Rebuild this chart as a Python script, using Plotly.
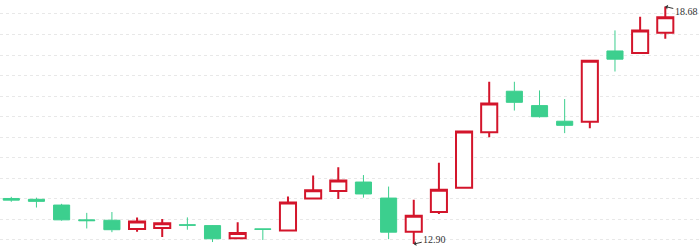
import plotly.graph_objects as go

idx = list(range(27))
opens  = [14.01, 13.99, 13.85, 13.49, 13.48, 13.27, 13.29, 13.37, 13.35, 13.04, 13.27, 13.23, 14.01, 14.19,
          14.41, 14.02, 13.20, 13.68, 14.27, 15.62, 16.62, 16.27, 15.89, 15.88, 17.60, 17.55, 18.04]
highs  = [14.05, 14.03, 13.88, 13.66, 13.68, 13.55, 13.51, 13.55, 13.36, 13.43, 13.27, 14.06, 14.57, 14.77,
          14.58, 14.30, 13.98, 14.88, 15.65, 16.85, 16.85, 16.64, 16.43, 17.36, 18.10, 18.43, 18.68]
lows   = [13.93, 13.79, 13.47, 13.28, 13.19, 13.20, 13.07, 13.25, 12.95, 13.04, 13.00, 13.23, 14.01, 14.00,
          14.03, 13.02, 12.90, 13.63, 14.27, 15.50, 16.15, 15.98, 15.60, 15.72, 17.10, 17.55, 17.90]
closes = [13.97, 13.94, 13.49, 13.47, 13.25, 13.45, 13.41, 13.36, 13.03, 13.17, 13.26, 13.91, 14.21, 14.45,
          14.12, 13.19, 13.59, 14.22, 15.64, 16.32, 16.35, 16.00, 15.79, 17.36, 17.40, 18.10, 18.42]

RED = "#d3152b"
GREEN = "#3ccf8e"

fig = go.Figure(go.Candlestick(
    x=idx, open=opens, high=highs, low=lows, close=closes,
    increasing=dict(line=dict(color=RED, width=2), fillcolor="#ffffff"),
    decreasing=dict(line=dict(color=GREEN, width=1), fillcolor=GREEN),
    hoverinfo="skip",
))

imax = highs.index(max(highs))
imin = lows.index(min(lows))
fig.add_annotation(x=imax, y=highs[imax], text=f"{highs[imax]:.2f}", showarrow=True,
                   ax=21, ay=5, arrowhead=1, arrowsize=0.8, arrowwidth=1, arrowcolor="#333333",
                   font=dict(family="Liberation Serif", size=10, color="#333333"))
fig.add_annotation(x=imin, y=lows[imin], text=f"{lows[imin]:.2f}", showarrow=True,
                   ax=21, ay=-5, arrowhead=1, arrowsize=0.8, arrowwidth=1, arrowcolor="#333333",
                   font=dict(family="Liberation Serif", size=10, color="#333333"))

fig.update_layout(
    width=700, height=248, margin=dict(l=0, r=0, t=0, b=0),
    paper_bgcolor="white", plot_bgcolor="white", showlegend=False,
    boxgap=0.36, boxgroupgap=0,
    xaxis=dict(range=[-0.449, 27.38], showgrid=False, zeroline=False, showticklabels=False,
               rangeslider=dict(visible=False), fixedrange=True),
    yaxis=dict(range=[12.805, 18.84], dtick=0.5, tick0=13, showgrid=True, gridcolor="#e8e8e8",
               griddash="dot", gridwidth=1, zeroline=False, showticklabels=False, fixedrange=True),
)

fig.write_html("out.html")
